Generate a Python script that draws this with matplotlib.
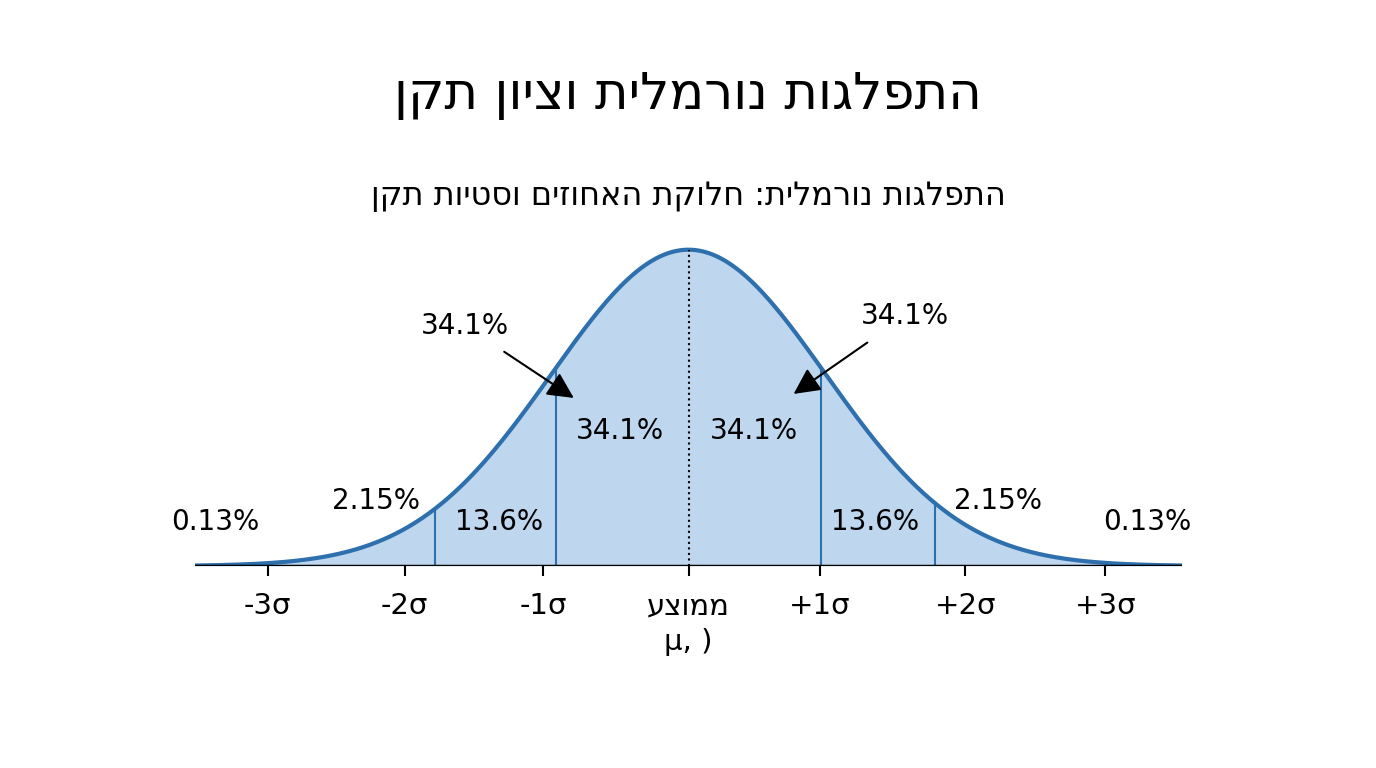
import numpy as np
import matplotlib
matplotlib.use("Agg")
import matplotlib.pyplot as plt

plt.rcParams["font.family"] = ["DejaVu Sans"]

# Hebrew shown right-to-left: reverse logical strings for display
def heb(s): return s[::-1]

title = "התפלגות נורמלית וציון תקן"
subtitle = "התפלגות נורמלית: חלוקת האחוזים וסטיות תקן"
tick_pos = [-3.07, -2.07, -1.06, 0.0, 0.96, 2.02, 3.04]
tick_lab = ["-3σ", "-2σ", "-1σ", heb("ממוצע") + "\nμ, )", "+1σ", "+2σ", "+3σ"]
bounds = [-1.85, -0.97, 0.97, 1.8]
region_labels = ["0.13%", "2.15%", "13.6%", "34.1%", "34.1%", "13.6%", "2.15%", "0.13%"]
region_xy = [(-3.45, 0.055), (-2.28, 0.082), (-1.38, 0.055), (-0.5, 0.17),
             (0.48, 0.17), (1.36, 0.055), (2.26, 0.082), (3.35, 0.055)]

BLUE, FILL = "#2e6fad", "#bed7ee"
fig = plt.figure(figsize=(13.76, 7.68), dpi=100)
ax = fig.add_axes([195/1376, 1-566/768, 987/1376, 333/768])
x = np.linspace(-3.6, 3.6, 600)
y = np.exp(-x**2/2)/np.sqrt(2*np.pi)
ax.fill_between(x, 0, y, color=FILL, lw=0)
ax.plot(x, y, color=BLUE, lw=3)
for b in bounds:
    ax.plot([b, b], [0, np.exp(-b**2/2)/np.sqrt(2*np.pi)], color=BLUE, lw=1.5)
ax.plot([0, 0], [0, 0.3989], color="k", ls=":", lw=1.5)
ax.axhline(0, color="k", lw=2.5)
ax.set_xlim(-3.6, 3.6); ax.set_ylim(0, 0.42)
for s in ax.spines.values(): s.set_visible(False)
ax.set_yticks([])
ax.set_xticks(tick_pos); ax.set_xticklabels(tick_lab, fontsize=21, va="top", linespacing=1.35)
ax.tick_params(axis="x", length=7, width=1.5, pad=12)
for lab, (xx, yy) in zip(region_labels, region_xy):
    ax.text(xx, yy, lab, fontsize=20, ha="center", va="center")
arrow = dict(arrowstyle="-|>,head_length=0.8,head_width=0.4", color="k", lw=1.5, shrinkA=12)
ax.annotate("34.1%", xy=(-0.82, 0.21), xytext=(-1.63, 0.303), fontsize=20, ha="center", va="center",
            arrowprops=arrow)
ax.annotate("34.1%", xy=(0.75, 0.215), xytext=(1.58, 0.315), fontsize=20, ha="center", va="center",
            arrowprops=arrow)
fig.text(0.5, 1-95/768, heb(title), fontsize=37, ha="center", va="center")
fig.text(0.5, 1-197/768, heb(subtitle), fontsize=23, ha="center", va="center")
fig.savefig("out.png", dpi=100, facecolor="white")
